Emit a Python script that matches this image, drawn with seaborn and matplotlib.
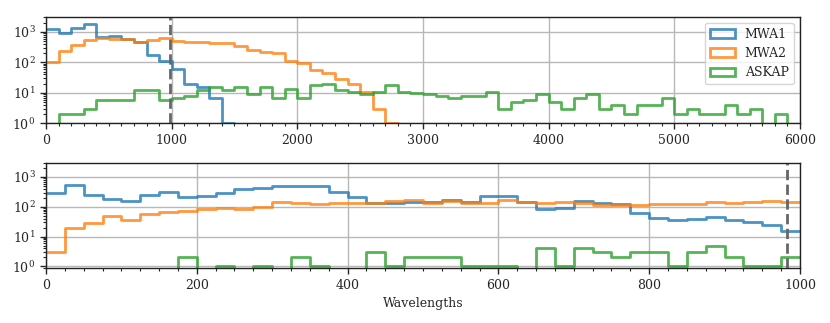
import matplotlib
matplotlib.use('Agg')
import matplotlib.pyplot as plt
from matplotlib.patches import Patch
from matplotlib.ticker import MultipleLocator, LogLocator, NullFormatter
import numpy as np
import pandas as pd
import seaborn as sns

# ---- data: counts per bin ----
surveys = ['MWA1', 'MWA2', 'ASKAP']
colors = ['#1f77b4', '#ff7f0e', '#2ca02c']

# top panel: bins of 100 wavelengths from 0 to 6000
edges_top = np.arange(0, 6001, 100)
mwa1_top = [1230, 900, 1380, 1830, 670, 740, 570, 480, 175, 112,
            61, 20, 15, 7, 1] + [0] * 45
mwa2_top = [100, 245, 375, 545, 620, 600, 575, 480, 545, 620,
            520, 480, 450, 420, 420, 355, 255, 215, 200, 112,
            93, 57, 44, 28, 19, 11, 3, 1] + [0] * 32
askap_top = [0, 2, 2, 3, 6, 6, 6, 12, 12, 6,
             7, 8, 12, 16, 12, 16, 9, 16, 7, 13,
             7, 18, 20, 12, 11, 9, 11, 18, 11, 10,
             9, 8, 7, 8, 8, 11, 3, 5, 6, 9,
             5, 3, 7, 9, 3, 4, 2, 4, 4, 7,
             2, 3, 2, 2, 4, 2, 3, 0, 2, 0]

# bottom panel: bins of 25 wavelengths from 0 to 1000
edges_bot = np.arange(0, 1001, 25)
mwa1_bot = [290, 540, 250, 180, 160, 250, 305, 215, 225, 290,
            395, 430, 500, 515, 490, 305, 205, 130, 130, 145,
            148, 174, 145, 225, 235, 145, 83, 89, 153, 138,
            121, 62, 42, 36, 39, 46, 35, 31, 25, 15]
mwa2_bot = [3, 20, 29, 48, 36, 59, 69, 72, 85, 92,
            81, 100, 141, 131, 128, 131, 131, 131, 157, 166,
            135, 157, 138, 138, 174, 145, 135, 141, 135, 118,
            116, 116, 125, 128, 121, 148, 135, 148, 157, 141]
askap_bot = [0, 0, 0, 0, 0, 0, 0, 2, 0, 1,
             0, 1, 0, 2, 1, 0, 0, 3, 1, 2,
             2, 2, 1, 1, 1, 0, 4, 1, 4, 3,
             2, 3, 3, 1, 3, 5, 2, 1, 1, 2]

cut_top = 985
cut_bot = 983


def to_frame(edges, series):
    centres = (edges[:-1] + edges[1:]) / 2
    rows = []
    for name, counts in zip(surveys, series):
        rows.append(pd.DataFrame({'wl': centres, 'count': counts, 'survey': name}))
    return pd.concat(rows, ignore_index=True)


sns.set_style('ticks', {'axes.grid': True, 'grid.color': '#b8b8b8'})
plt.rcParams['font.family'] = ['DejaVu Serif']
plt.rcParams['mathtext.fontset'] = 'dejavuserif'
plt.rcParams['font.size'] = 9

fig = plt.figure(figsize=(8.3, 3.23), dpi=100)
ax1 = fig.add_axes([0.0554, 0.6183, 0.9084, 0.330])
ax2 = fig.add_axes([0.0554, 0.1693, 0.9084, 0.327])

panels = [
    (ax1, to_frame(edges_top, [mwa1_top, mwa2_top, askap_top]), edges_top, cut_top, (1, 3160), 1000, 100),
    (ax2, to_frame(edges_bot, [mwa1_bot, mwa2_bot, askap_bot]), edges_bot, cut_bot, (0.86, 3000), 200, 25),
]

for ax, df, edges, cut, ylim, major, minor in panels:
    width = edges[1] - edges[0]
    for name, col in zip(surveys, colors):
        sns.histplot(data=df[df.survey == name], x='wl', weights='count',
                     binwidth=width, binrange=(edges[0], edges[-1]),
                     element='step', fill=False, color=col, alpha=0.8, linewidth=2, ax=ax)
    ax.set_yscale('log')
    ax.set_xlim(edges[0], edges[-1])
    ax.set_ylim(*ylim)
    ax.axvline(cut, color='0.4', ls='--', lw=2)
    ax.xaxis.set_major_locator(MultipleLocator(major))
    ax.xaxis.set_minor_locator(MultipleLocator(minor))
    ax.yaxis.set_major_locator(LogLocator(base=10, numticks=10))
    ax.yaxis.set_minor_locator(LogLocator(base=10, subs=np.arange(2, 10), numticks=10))
    ax.yaxis.set_minor_formatter(NullFormatter())
    ax.tick_params(which='major', direction='out', length=4, width=1, labelsize=9)
    ax.tick_params(which='minor', direction='out', length=2.5, width=0.8, left=True, bottom=True)
    ax.grid(True, which='major', color='#b8b8b8', lw=1)
    ax.set_ylabel('')
    ax.set_xlabel('')
    for sp in ax.spines.values():
        sp.set_color('#222222')
        sp.set_linewidth(1)

ax2.set_xlabel('Wavelengths', fontsize=9)

handles = [Patch(facecolor='none', edgecolor=c, alpha=0.8, linewidth=2, label=n)
           for n, c in zip(surveys, colors)]
ax1.legend(handles=handles, loc='upper right', fontsize=9, frameon=True,
           edgecolor='#cccccc', fancybox=True)

fig.savefig('out.png', dpi=100)
